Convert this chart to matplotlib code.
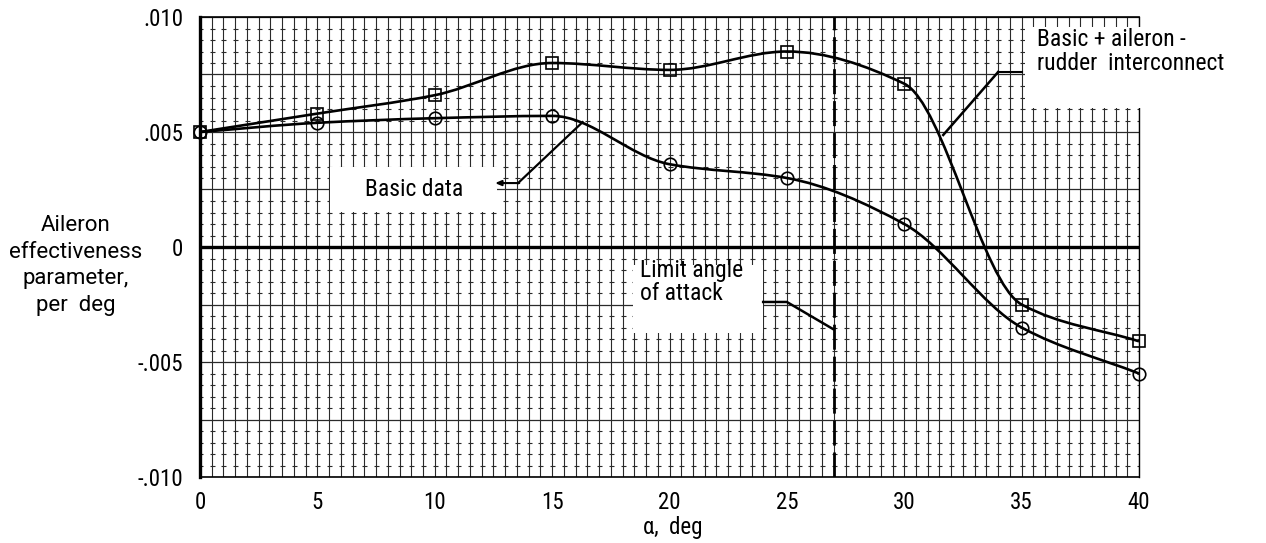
import numpy as np
import matplotlib
matplotlib.use('Agg')
import matplotlib.pyplot as plt
from matplotlib.path import Path
from matplotlib.patches import PathPatch, Rectangle
import logging
logging.getLogger('matplotlib.font_manager').setLevel(logging.ERROR)

# ---------------- data ----------------
alpha = [0, 5, 10, 15, 20, 25, 30, 35, 40]
basic = [0.0050, 0.0054, 0.0056, 0.0057, 0.0036, 0.0030, 0.0010, -0.0035, -0.0055]
interconnect = [0.0050, 0.0058, 0.0066, 0.0080, 0.0077, 0.0085, 0.0071, -0.0025, -0.0041]
limit_alpha = 27.0

x_ticks = [0, 5, 10, 15, 20, 25, 30, 35, 40]
x_tick_labels = ['0', '5', '10', '15', '20', '25', '30', '35', '40']
y_ticks = [-0.010, -0.005, 0.0, 0.005, 0.010]
y_tick_labels = ['-.010', '-.005', '0', '.005', '.010']

NARROW = ['Roboto Condensed', 'Liberation Sans', 'DejaVu Sans']
REGULAR = ['Roboto', 'Liberation Sans', 'DejaVu Sans']

# ---------------- figure ----------------
fig = plt.figure(figsize=(12.66, 5.43), dpi=100)
ax = fig.add_axes([200/1266, 1-477/543, 939/1266, 460/543])
ax.set_xlim(0, 40)
ax.set_ylim(-0.010, 0.010)

# graph-paper grid
gx = np.arange(0, 40.01, 0.5)
ax.vlines(gx, -0.010, 0.010, color='#2a2a2a', lw=0.8, zorder=1)
gy = np.arange(-0.010, 0.01001, 0.0025)
ax.hlines(gy, 0, 40, color='#2a2a2a', lw=0.9, zorder=1)
fine_y = np.round(np.arange(-0.010, 0.01001, 0.0005), 5)
fine_y = fine_y[np.abs(np.round(fine_y / 0.0025) * 0.0025 - fine_y) > 1e-7]
FX, FY = np.meshgrid(gx, fine_y)
ax.plot(FX.ravel(), FY.ravel(), ls='none', marker='_', ms=3.6, mew=0.8,
        color='#2a2a2a', zorder=1)
ax.axhline(0, color='black', lw=2.4, zorder=3)

# white label boxes (cover the grid)
ax.add_patch(Rectangle((5.54, 0.00152), 12.65-5.54, 0.00348-0.00152,
                       facecolor='white', edgecolor='none', zorder=2))
ax.add_patch(Rectangle((18.45, -0.00374), 23.99-18.45, 0.00296,
                       facecolor='white', edgecolor='none', zorder=2))
ax.add_patch(Rectangle((35.15, 0.00604), 11.0, 0.00957-0.00604,
                       facecolor='white', edgecolor='none', zorder=3,
                       clip_on=False))

# limit angle of attack
ax.axvline(limit_alpha, color='black', lw=2.0, dashes=(9, 2.5), zorder=3)

# faired (shape-preserving) curves through the data points
def faired_path(xs, ys):
    x = np.asarray(xs, float)
    y = np.asarray(ys, float)
    h = np.diff(x)
    d = np.diff(y) / h
    m = np.zeros_like(y)
    m[0], m[-1] = d[0], d[-1]
    for i in range(1, len(y) - 1):
        if d[i-1] * d[i] <= 0:
            m[i] = 0.0
        else:
            m[i] = 2.0 * d[i-1] * d[i] / (d[i-1] + d[i])
    verts = [(x[0], y[0])]
    codes = [Path.MOVETO]
    for i in range(len(x) - 1):
        verts += [(x[i] + h[i] / 3, y[i] + m[i] * h[i] / 3),
                  (x[i+1] - h[i] / 3, y[i+1] - m[i+1] * h[i] / 3),
                  (x[i+1], y[i+1])]
        codes += [Path.CURVE4] * 3
    return Path(verts, codes)

for ys, mk in [(basic, 'o'), (interconnect, 's')]:
    ax.add_patch(PathPatch(faired_path(alpha, ys), facecolor='none',
                           edgecolor='black', lw=1.9, zorder=4))
    ax.plot(alpha, ys, ls='none', marker=mk, ms=9 if mk == 'o' else 8,
            mfc='none', mec='black', mew=1.2, zorder=5, clip_on=False)

# leaders and labels
ax.plot([13.55, 16.3], [0.00278, 0.00543], color='black', lw=1.6, zorder=4)
ax.annotate('', xy=(12.57, 0.00278), xytext=(13.6, 0.00278),
            arrowprops=dict(arrowstyle='-|>,head_length=0.35,head_width=0.15',
                            color='black', lw=1.5, shrinkA=0, shrinkB=0),
            zorder=4)
ax.text(7.03, 0.00222, 'Basic data', family=NARROW, fontsize=17,
        ha='left', va='baseline', zorder=5)

ax.plot([34.0, 35.02], [0.00761, 0.00761], color='black', lw=1.5, zorder=4,
        clip_on=False)
ax.plot([34.0, 31.66], [0.00761, 0.00487], color='black', lw=1.8, zorder=4)
ax.text(35.66, 0.0077, 'Basic + aileron -\nrudder  interconnect',
        family=NARROW, fontsize=17, ha='left', va='baseline',
        linespacing=1.05, zorder=5)

ax.plot([23.99, 25.0, 26.97], [-0.00239, -0.00239, -0.00357],
        color='black', lw=1.8, zorder=4)
ax.text(18.75, -0.0023, 'Limit angle\nof attack', family=NARROW,
        fontsize=17, ha='left', va='baseline', linespacing=1.0, zorder=5)

# axes decoration
ax.set_xticks(x_ticks)
ax.set_xticklabels(x_tick_labels, family=NARROW, fontsize=16.5)
ax.set_yticks(y_ticks)
ax.set_yticklabels(y_tick_labels, family=NARROW, fontsize=16.5)
ax.tick_params(axis='both', length=0)
ax.tick_params(axis='x', pad=10)
ax.tick_params(axis='y', pad=12)

ax.set_xlabel('\u03b1,  deg', family=NARROW, fontsize=16.5)
ax.xaxis.set_label_coords(0.503, -0.085)
ax.set_ylabel('Aileron\neffectiveness\nparameter,\nper  deg', family=REGULAR,
              fontsize=16, rotation=0, ha='center', va='center',
              linespacing=1.35)
ax.yaxis.set_label_coords(-0.132, 0.46)

for side, lw in [('left', 2.4), ('bottom', 1.2), ('top', 1.2), ('right', 1.0)]:
    ax.spines[side].set_linewidth(lw)
    ax.spines[side].set_color('black')
    ax.spines[side].set_zorder(2.5)

fig.savefig('out.png', dpi=100)
